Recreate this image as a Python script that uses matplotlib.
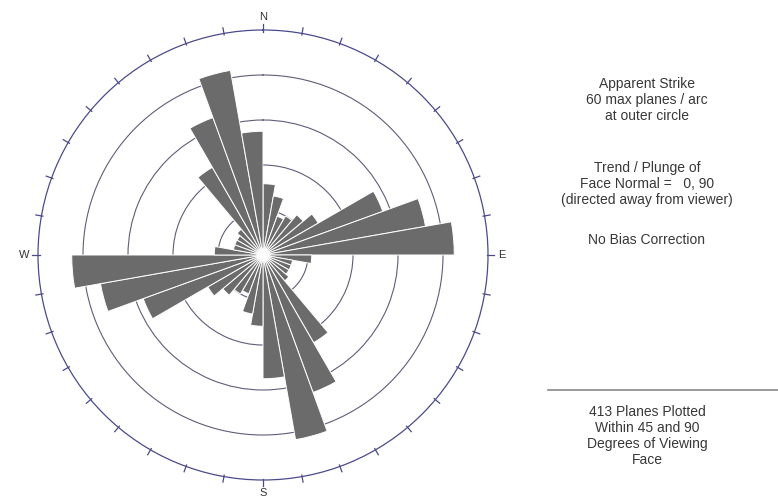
import numpy as np
import matplotlib.pyplot as plt

plt.rcParams['font.family'] = ['Liberation Sans', 'DejaVu Sans']

# apparent strike counts per 10 degree arc, 0-180 (mirrored to 180-360)
bin_start = np.arange(0, 180, 10)
counts = [19, 16, 11, 12, 14, 17, 34, 44, 51,
          13, 8, 8, 8, 9, 27, 39, 50, 33]
max_planes = 60
ring_steps = [12, 24, 36, 48]
compass = ['N', 'E', 'S', 'W']

notes_top = ['Apparent Strike', '60 max planes / arc', 'at outer circle']
notes_mid = ['Trend / Plunge of', 'Face Normal =   0, 90', '(directed away from viewer)']
notes_bias = 'No Bias Correction'
notes_bottom = ['413 Planes Plotted', 'Within 45 and 90', 'Degrees of Viewing', 'Face']

W, H = 778, 503
fig = plt.figure(figsize=(W / 100, H / 100), dpi=100)
fig.patch.set_facecolor('white')

# polar axes placed in pixels: centre (263, 255), radius 225
cx, cy, R = 263, 255, 225
ax = fig.add_axes([(cx - R) / W, (H - cy - R) / H, 2 * R / W, 2 * R / H],
                  projection='polar')
ax.set_theta_zero_location('N')
ax.set_theta_direction(-1)
ax.set_ylim(0, max_planes)

theta = np.radians(np.concatenate([bin_start, bin_start + 180]) + 5)
radii = np.concatenate([counts, counts])
ax.bar(theta, radii, width=np.radians(10), bottom=0, color='#6b6b6b',
       edgecolor='white', linewidth=0.7, zorder=3)

# soft white spot where the bar edges meet
for s, a in [(120, 0.25), (50, 0.45), (15, 0.8)]:
    ax.scatter([0], [0], s=s, color='white', alpha=a, linewidths=0, zorder=4)

ax.set_yticks(ring_steps)
ax.set_yticklabels([])
ax.yaxis.grid(True, color='#5e5e7a', linewidth=0.8)
ax.xaxis.grid(False)
ax.set_xticks([])
ax.spines['polar'].set_color('#4b4b8c')
ax.spines['polar'].set_linewidth(0.9)

# 10 degree ticks on the outer circle
for deg in range(0, 360, 10):
    t = np.radians(deg)
    ax.plot([t, t], [max_planes - 0.4, max_planes + 1.5], color='#4b4b8c',
            linewidth=0.9, clip_on=False, zorder=5)

for i, lab in enumerate(compass):
    ax.text(np.radians(i * 90), max_planes * 1.06, lab, ha='center', va='center',
            fontsize=8, color='#333333')

# side notes
tx = 647 / W
def block(lines, y0, step=16):
    for k, s in enumerate(lines):
        fig.text(tx, 1 - (y0 + k * step) / H, s, ha='center', va='center',
                 fontsize=10, color='#383838')

block(notes_top, 84)
block(notes_mid, 168)
block([notes_bias], 240)
block(notes_bottom, 412)
fig.add_artist(plt.Line2D([548 / W, 1.0], [1 - 390 / H, 1 - 390 / H],
                          color='#888888', linewidth=1.2))

fig.savefig('out.png', dpi=100)
